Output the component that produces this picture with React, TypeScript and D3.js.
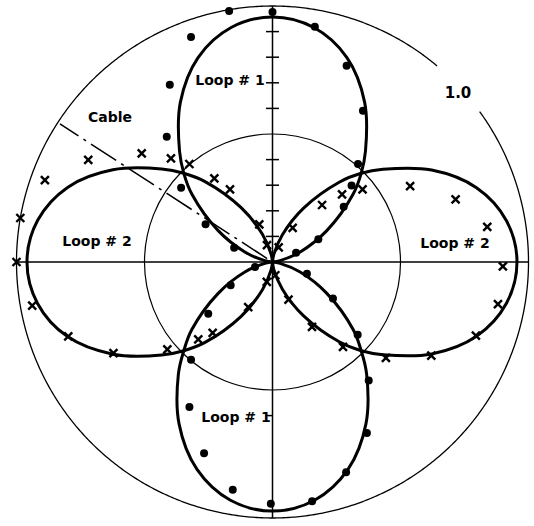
import React from "react";
import * as d3 from "d3";

// Polar field pattern of two loops with measured points.
// Angles are bearings in degrees (0 = up, clockwise); radii are relative (0..1).

const lobeOffsets = [0, 10, 20, 30, 40, 45, 50, 60, 70, 80, 90];
const loop1UpperRadii = [0.957, 0.93, 0.85, 0.72, 0.565, 0.49, 0.41, 0.245, 0.115, 0.03, 0];
const loop1LowerRadii = [0.973, 0.945, 0.862, 0.73, 0.572, 0.49, 0.412, 0.245, 0.115, 0.03, 0];
const loop2RightRadii = [0.955, 0.928, 0.848, 0.718, 0.563, 0.49, 0.408, 0.243, 0.113, 0.03, 0];
const loop2LeftRadii = [0.959, 0.932, 0.852, 0.72, 0.565, 0.49, 0.41, 0.245, 0.115, 0.03, 0];

const lobes = [
  { axis: 0, radii: loop1UpperRadii },
  { axis: 180, radii: loop1LowerRadii },
  { axis: 90, radii: loop2RightRadii },
  { axis: 270, radii: loop2LeftRadii },
];

// Loop #1 measurements (dots)
const loop1Bearings = [
  350.2, 340.1, 329.9, 319.8, 309.1, 299.4, 290.5,
  0, 10.2, 20.7, 30.9, 41.1, 45.9, 52.2, 63.5, 68.4,
  108.7, 121.2, 130.5, 140.9, 151.1, 160.7, 170.6, 180.4,
  189.9, 199.7, 209.8, 219.8, 231.2, 240.9, 254,
];
const loop1Values = [
  0.995, 0.935, 0.8, 0.64, 0.46, 0.3, 0.16,
  0.977, 0.934, 0.819, 0.688, 0.508, 0.43, 0.352, 0.2, 0.099,
  0.142, 0.276, 0.4375, 0.596, 0.763, 0.87, 0.947, 0.944,
  0.903, 0.793, 0.653, 0.497, 0.322, 0.187, 0.071,
];

// Loop #2 measurements (crosses)
const loop2Bearings = [
  61.1, 71.1, 80.7, 91.1, 100.6, 109.9, 120.5, 130.2, 140.3, 148.7, 157, 168,
  51.1, 45.8, 41.0, 30.5, 22.9,
  196, 208.3, 220.2, 223.8, 230.3, 240.2, 250, 259.7, 270,
  279.9, 289.8, 299, 309.7, 315.6, 319.7, 325.2, 329.7, 340.7, 341.8,
];
const loop2Values = [
  0.614, 0.756, 0.85, 0.9, 0.896, 0.845, 0.72, 0.58, 0.431, 0.297, 0.16, 0.053,
  0.452, 0.379, 0.295, 0.155, 0.062,
  0.081, 0.2, 0.362, 0.419, 0.534, 0.716, 0.849, 0.954, 1.0,
  1.0, 0.945, 0.823, 0.664, 0.567, 0.502, 0.398, 0.329, 0.156, 0.069,
];

const axisTicks = [0.1, 0.2, 0.3, 0.4, 0.6, 0.7, 0.8, 0.9];
const referenceRings = [0.5];
const outerRing = 1.0;
const outerGap = [40.3, 54]; // break in the outer ring for its label
const cableBearing = 303;
const cableExtent = [0.025, 0.99];

const labels = [
  { text: "Loop # 1", x: 230, y: 85 },
  { text: "Loop # 1", x: 236, y: 422 },
  { text: "Loop # 2", x: 97, y: 246 },
  { text: "Loop # 2", x: 455, y: 248 },
  { text: "Cable", x: 110, y: 122 },
];

const W = 534;
const H = 526;
const cx = 272.5;
const cy = 262;

const rad = (deg: number) => (deg * Math.PI) / 180;

export default function App() {
  const r = d3.scaleLinear().domain([0, 1]).range([0, 256]);
  const pt = (b: number, v: number) => d3.pointRadial(rad(b), r(v));

  const lobeLine = d3
    .lineRadial<[number, number]>()
    .angle((d) => rad(d[0]))
    .radius((d) => r(d[1]))
    .curve(d3.curveCatmullRom.alpha(0.5));

  const lobePath = (axis: number, radii: number[]) => {
    const pts: [number, number][] = [];
    for (let i = lobeOffsets.length - 1; i >= 1; i--) pts.push([axis - lobeOffsets[i], radii[i]]);
    for (let i = 0; i < lobeOffsets.length; i++) pts.push([axis + lobeOffsets[i], radii[i]]);
    return lobeLine(pts) || "";
  };

  const ringLine = d3
    .lineRadial<number>()
    .angle((d) => rad(d))
    .radius(r(outerRing));
  const outerPath = ringLine(d3.range(outerGap[1], outerGap[0] + 360 + 0.01, 0.5)) || "";

  const [c0x, c0y] = pt(cableBearing, cableExtent[0]);
  const [c1x, c1y] = pt(cableBearing, cableExtent[1]);

  const font = { fontFamily: "DejaVu Sans", fontWeight: 700 as const, fontSize: 14 };

  return (
    <svg
      width={W}
      height={H}
      viewBox={`0 0 ${W} ${H}`}
      style={{ position: "absolute", left: 0, top: 0, background: "#fff" }}
    >
      <g transform={`translate(${cx},${cy})`}>
        {/* rings */}
        <path d={outerPath} fill="none" stroke="#000" strokeWidth={1.3} />
        {referenceRings.map((v) => (
          <circle key={v} r={r(v)} fill="none" stroke="#000" strokeWidth={1.2} />
        ))}

        {/* axes */}
        <line x1={-r(outerRing)} x2={r(outerRing)} y1={0} y2={0} stroke="#000" strokeWidth={1.5} />
        <line x1={0} x2={0} y1={-r(outerRing)} y2={r(outerRing)} stroke="#000" strokeWidth={1.5} />
        {axisTicks.map((t) => (
          <line key={t} x1={-6.5} x2={6.5} y1={-r(t)} y2={-r(t)} stroke="#000" strokeWidth={1.5} />
        ))}
        <line x1={-6} x2={0} y1={r(0.6)} y2={r(0.6)} stroke="#000" strokeWidth={1.5} />

        {/* cable direction */}
        <line
          x1={c0x}
          y1={c0y}
          x2={c1x}
          y2={c1y}
          stroke="#000"
          strokeWidth={1.5}
          strokeDasharray="30 6 3 6"
        />

        {/* pattern lobes */}
        {lobes.map((l) => (
          <path
            key={l.axis}
            d={lobePath(l.axis, l.radii)}
            fill="none"
            stroke="#000"
            strokeWidth={3}
            strokeLinejoin="round"
          />
        ))}

        {/* loop #1 points */}
        {loop1Bearings.map((b, i) => {
          const [x, y] = pt(b, loop1Values[i]);
          return <circle key={`d${i}`} cx={x} cy={y} r={4} fill="#000" />;
        })}

        {/* loop #2 points */}
        {loop2Bearings.map((b, i) => {
          const [x, y] = pt(b, loop2Values[i]);
          return (
            <path
              key={`x${i}`}
              transform={`translate(${x},${y})`}
              d="M-4,-4L4,4M-4,4L4,-4"
              stroke="#000"
              strokeWidth={2.4}
              fill="none"
            />
          );
        })}
      </g>

      {labels.map((l, i) => (
        <text key={i} x={l.x} y={l.y} textAnchor="middle" {...font}>
          {l.text}
        </text>
      ))}
      <text x={458} y={98} textAnchor="middle" {...font} fontSize={15}>
        1.0
      </text>
    </svg>
  );
}
